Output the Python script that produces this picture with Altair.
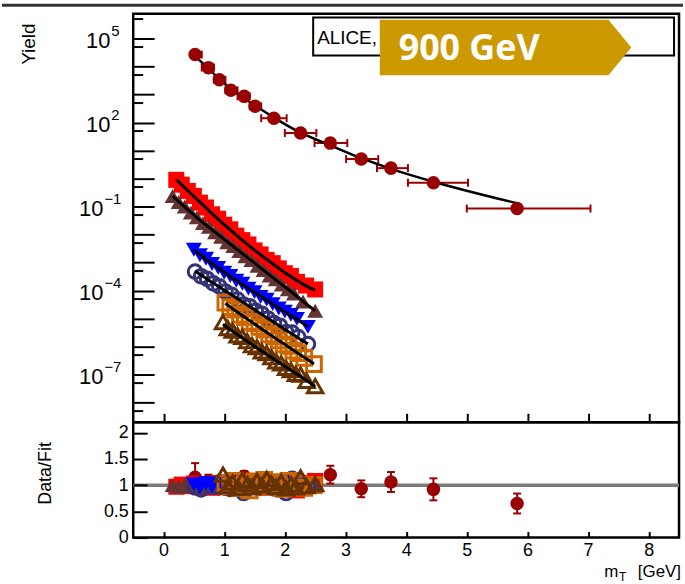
import altair as alt
import pandas as pd

FONT = "Liberation Sans"

# ---------------- axis ranges and ticks ----------------
X_DOMAIN = [-0.5, 8.5]
Y_DOMAIN = [2e-9, 7.8e5]
R_DOMAIN = [0.0, 2.2]
x_ticks = [0, 1, 2, 3, 4, 5, 6, 7, 8]
y_major = [1e-8, 1e-7, 1e-6, 1e-5, 1e-4, 1e-3, 1e-2, 1e-1, 1e0, 1e1, 1e2, 1e3, 1e4, 1e5]
y_minor = [5e-9, 5e-8, 5e-7, 5e-6, 5e-5, 5e-4, 5e-3, 5e-2, 5e-1, 5e0, 5e1, 5e2, 5e3, 5e4, 5e5]
y_label_pos = [1e5, 1e2]
y_label_pos_exp = ["5", "2"]
y_label_neg = [1e-1, 1e-4, 1e-7]
y_label_neg_exp = ["\u22121", "\u22124", "\u22127"]
r_ticks = [0, 0.5, 1, 1.5, 2]

# ---------------- data ----------------
# dark red filled circles (upper spectrum)
dr_x = [0.52, 0.74, 0.92, 1.11, 1.33, 1.51, 1.82, 2.26, 2.75, 3.26, 3.75, 4.45, 5.83]
dr_xlo = [0.45, 0.63, 0.83, 1.02, 1.22, 1.42, 1.61, 2.00, 2.49, 3.01, 3.52, 4.03, 5.00]
dr_xhi = [0.63, 0.83, 1.02, 1.22, 1.42, 1.61, 2.03, 2.52, 3.03, 3.54, 4.03, 5.02, 7.04]
dr_fit_log10 = [4.37, 3.93, 3.56, 3.20, 2.87, 2.61, 2.18, 1.64, 1.19, 0.73, 0.35, -0.11, -0.88]
dr_ratio = [1.15, 1.08, 0.93, 0.90, 1.17, 0.95, 0.95, 0.98, 1.20, 0.93, 1.06, 0.92, 0.65]
dr_ratio_err = [0.27, 0.12, 0.10, 0.10, 0.10, 0.10, 0.12, 0.14, 0.17, 0.16, 0.19, 0.21, 0.19]

red_x = [0.21, 0.30, 0.40, 0.50, 0.60, 0.70, 0.80, 0.90, 1.00, 1.10, 1.20, 1.30, 1.40, 1.50, 1.60, 1.70, 1.80, 1.90, 2.00, 2.10, 2.20, 2.35, 2.50]
red_fit_log10 = [-0.03, -0.22, -0.43, -0.63, -0.84, -1.04, -1.25, -1.45, -1.64, -1.83, -2.02, -2.20, -2.38, -2.55, -2.72, -2.88, -3.04, -3.20, -3.36, -3.50, -3.64, -3.83, -3.99]
red_ratio = [0.97, 1.01, 0.98, 1.03, 0.96, 1.02, 0.95, 1.04, 0.99, 1.05, 0.96, 1.01, 1.07, 0.97, 1.03, 0.95, 1.05, 0.99, 0.96, 1.06, 0.90, 1.03, 1.08]

brown_x = [0.15, 0.25, 0.35, 0.45, 0.55, 0.65, 0.75, 0.85, 0.95, 1.05, 1.15, 1.25, 1.35, 1.45, 1.55, 1.65, 1.75, 1.85, 1.95, 2.05, 2.15, 2.30, 2.50]
brown_fit_log10 = [-0.62, -0.82, -1.01, -1.20, -1.39, -1.57, -1.74, -1.91, -2.08, -2.25, -2.42, -2.59, -2.76, -2.93, -3.10, -3.27, -3.44, -3.61, -3.78, -3.94, -4.12, -4.38, -4.72]
brown_ratio = [1.00, 0.97, 1.03, 0.98, 1.02, 0.96, 1.04, 0.99, 1.01, 0.95, 1.03, 1.00, 0.97, 1.05, 0.98, 1.02, 0.96, 1.03, 1.00, 0.97, 1.04, 0.98, 1.01]

blue_x = [0.50, 0.60, 0.70, 0.80, 0.90, 1.00, 1.10, 1.20, 1.30, 1.40, 1.50, 1.60, 1.70, 1.80, 1.90, 2.00, 2.10, 2.20, 2.38]
blue_fit_log10 = [-2.55, -2.72, -2.88, -3.04, -3.19, -3.34, -3.49, -3.64, -3.78, -3.92, -4.06, -4.20, -4.34, -4.48, -4.62, -4.76, -4.90, -5.03, -5.28]
blue_ratio = [1.02, 0.96, 1.04, 0.98, 1.01, 0.95, 1.03, 0.99, 1.06, 0.97, 1.02, 0.94, 1.05, 1.00, 0.96, 1.03, 1.08, 1.05, 0.97]

navy_x = [0.52, 0.62, 0.72, 0.82, 0.92, 1.02, 1.12, 1.22, 1.32, 1.42, 1.52, 1.62, 1.72, 1.82, 1.92, 2.02, 2.12, 2.22, 2.38]
navy_fit_log10 = [-3.30, -3.45, -3.59, -3.73, -3.87, -4.01, -4.15, -4.29, -4.43, -4.57, -4.71, -4.85, -4.99, -5.13, -5.27, -5.41, -5.55, -5.69, -5.90]
navy_ratio = [0.96, 0.92, 1.02, 0.97, 1.05, 0.95, 1.01, 0.93, 0.85, 1.03, 0.97, 1.06, 0.99, 0.94, 1.04, 0.85, 1.12, 1.08, 0.98]

orange_x = [1.02, 1.10, 1.18, 1.26, 1.34, 1.42, 1.50, 1.58, 1.66, 1.74, 1.82, 1.90, 1.98, 2.06, 2.14, 2.22, 2.32, 2.48]
orange_fit_log10 = [-4.45, -4.58, -4.71, -4.83, -4.95, -5.07, -5.19, -5.31, -5.43, -5.55, -5.66, -5.78, -5.89, -6.01, -6.12, -6.24, -6.38, -6.62]
orange_ratio = [1.05, 0.98, 1.08, 0.95, 1.02, 0.90, 1.07, 1.04, 1.10, 0.97, 1.06, 1.02, 0.93, 1.08, 0.96, 1.03, 0.95, 1.00]

dbrown_x = [0.98, 1.06, 1.14, 1.22, 1.30, 1.38, 1.46, 1.54, 1.62, 1.70, 1.78, 1.86, 1.94, 2.02, 2.10, 2.18, 2.26, 2.36, 2.50]
dbrown_fit_log10 = [-5.20, -5.33, -5.45, -5.57, -5.69, -5.81, -5.93, -6.05, -6.16, -6.28, -6.39, -6.51, -6.62, -6.73, -6.84, -6.95, -7.06, -7.21, -7.42]
dbrown_ratio = [1.20, 0.98, 1.05, 0.95, 1.10, 1.02, 0.96, 1.08, 0.99, 1.12, 1.04, 0.97, 1.06, 0.94, 1.01, 0.96, 1.15, 0.98, 1.02]

# series: name, x, fit, ratio, colour, shape, filled, size
series = [
    ("red", red_x, red_fit_log10, red_ratio, "#FF0000", "square", True, 260),
    ("brown", brown_x, brown_fit_log10, brown_ratio, "#663333", "triangle-up", True, 260),
    ("navy", navy_x, navy_fit_log10, navy_ratio, "#333377", "circle", False, 190),
    ("blue", blue_x, blue_fit_log10, blue_ratio, "#0000FF", "triangle-down", True, 260),
    ("orange", orange_x, orange_fit_log10, orange_ratio, "#CC6600", "square", False, 220),
    ("dbrown", dbrown_x, dbrown_fit_log10, dbrown_ratio, "#663300", "triangle-up", False, 240),
]
DR = "#990000"

def make_df(name, xs, fitlog, ratio):
    fit = [10 ** v for v in fitlog]
    return pd.DataFrame({"series": name, "x": xs, "fit": fit,
                         "y": [f * r for f, r in zip(fit, ratio)], "ratio": ratio})

dr_df = make_df("dr", dr_x, dr_fit_log10, dr_ratio)
dr_df["xlo"] = dr_xlo
dr_df["xhi"] = dr_xhi
dr_df["rlo"] = [r - e for r, e in zip(dr_ratio, dr_ratio_err)]
dr_df["rhi"] = [r + e for r, e in zip(dr_ratio, dr_ratio_err)]
dr_xcaps = pd.concat([dr_df[["xlo", "y"]].rename(columns={"xlo": "xc"}),
                      dr_df[["xhi", "y"]].rename(columns={"xhi": "xc"})])
dr_rcaps = pd.concat([dr_df[["x", "rlo"]].rename(columns={"rlo": "rc"}),
                      dr_df[["x", "rhi"]].rename(columns={"rhi": "rc"})])

# ---------------- scales / axes ----------------
xscale = alt.Scale(domain=X_DOMAIN, nice=False, zero=False)
yscale = alt.Scale(type="log", domain=Y_DOMAIN, nice=False)
rscale = alt.Scale(domain=R_DOMAIN, nice=False, zero=False)

main_x_axis = alt.Axis(values=x_ticks, tickSize=9, offset=-9, labels=False, domain=False,
                       grid=False, title=None, tickColor="black", tickWidth=2, zindex=1)
main_y_axis = alt.Axis(values=y_major, tickSize=21, offset=-21, labels=False, domain=False,
                       grid=False, title=None, tickColor="black", tickWidth=2, zindex=1)
ratio_x_axis = alt.Axis(values=x_ticks, tickSize=6, offset=-6, labelPadding=4, domain=False,
                        grid=False, title=None, tickColor="black", tickWidth=2, zindex=1,
                        labelFont=FONT, labelFontSize=18, labelColor="black",
                        labelExpr="'' + datum.value")
ratio_y_axis = alt.Axis(values=r_ticks, tickSize=14, offset=-14, labelPadding=5, domain=False,
                        grid=False, title=None, tickColor="black", tickWidth=2, zindex=1,
                        labelFont=FONT, labelFontSize=18, labelColor="black",
                        labelExpr="'' + datum.value")

def MX(f):
    return alt.X(f + ":Q", scale=xscale, axis=main_x_axis)

def MY(f):
    return alt.Y(f + ":Q", scale=yscale, axis=main_y_axis)

def RX(f):
    return alt.X(f + ":Q", scale=xscale, axis=ratio_x_axis)

def RY(f):
    return alt.Y(f + ":Q", scale=rscale, axis=ratio_y_axis)

def marker(df, shp, filled, col, sz):
    if filled:
        return alt.Chart(df).mark_point(shape=shp, filled=True, color=col, size=sz, opacity=1)
    return alt.Chart(df).mark_point(shape=shp, filled=False, color=col, size=sz,
                                    strokeWidth=3, opacity=1)

one = pd.DataFrame({"t": ["x"]})

# ---------------- main panel ----------------
main_layers = []
main_layers.append(
    alt.Chart(one).mark_rect(color="#333333").encode(
        x=alt.value(-132), x2=alt.value(553), y=alt.value(-10), y2=alt.value(-7)))
main_layers.append(
    alt.Chart(pd.DataFrame({"v": y_minor})).mark_rule(color="black", strokeWidth=2).encode(
        y=MY("v"), x=alt.value(0), x2=alt.value(10)))

# y tick labels 10^n
lab_pos = pd.DataFrame({"v": y_label_pos, "e": y_label_pos_exp})
lab_neg = pd.DataFrame({"v": y_label_neg, "e": y_label_neg_exp})
main_layers.append(alt.Chart(lab_pos).mark_text(text="10", font=FONT, fontSize=22, align="right",
                                                baseline="middle", dy=2, color="black").encode(
    x=alt.value(-23), y=MY("v")))
main_layers.append(alt.Chart(lab_pos).mark_text(font=FONT, fontSize=15, align="left",
                                                baseline="middle", dy=-8, color="black").encode(
    x=alt.value(-22), y=MY("v"), text="e:N"))
main_layers.append(alt.Chart(lab_neg).mark_text(text="10", font=FONT, fontSize=22, align="right",
                                                baseline="middle", dy=2, color="black").encode(
    x=alt.value(-30), y=MY("v")))
main_layers.append(alt.Chart(lab_neg).mark_text(font=FONT, fontSize=15, align="left",
                                                baseline="middle", dy=-8, color="black").encode(
    x=alt.value(-29), y=MY("v"), text="e:N"))

for name, xs, fl, rt, col, shp, filled, sz in series:
    main_layers.append(marker(make_df(name, xs, fl, rt), shp, filled, col, sz).encode(
        x=MX("x"), y=MY("y")))

for name, xs, fl, rt, col, shp, filled, sz in series:
    df = make_df(name, xs, fl, rt)
    main_layers.append(alt.Chart(df).mark_line(color="black", strokeWidth=3,
                                               interpolate="monotone").encode(
        x=MX("x"), y=MY("fit"), order="x:Q"))

main_layers.append(alt.Chart(dr_df).mark_rule(color=DR, strokeWidth=2).encode(
    x=MX("xlo"), x2="xhi:Q", y=MY("y")))
main_layers.append(alt.Chart(dr_xcaps).mark_tick(orient="vertical", size=8, thickness=2,
                                                 color=DR, opacity=1).encode(
    x=MX("xc"), y=MY("y")))
main_layers.append(alt.Chart(dr_df).mark_line(color="black", strokeWidth=2.5,
                                              interpolate="monotone").encode(
    x=MX("x"), y=MY("fit"), order="x:Q"))
main_layers.append(alt.Chart(dr_df).mark_point(shape="circle", filled=True, color=DR,
                                               size=185, opacity=1).encode(
    x=MX("x"), y=MY("y")))

# legend box and banner
main_layers.append(alt.Chart(one).mark_rect(fill="white", stroke="black", strokeWidth=2).encode(
    x=alt.value(181), x2=alt.value(544), y=alt.value(4), y2=alt.value(42)))
main_layers.append(alt.Chart(one).mark_text(text="ALICE,", font=FONT, fontSize=19,
                                            align="left", baseline="alphabetic",
                                            color="black").encode(
    x=alt.value(185), y=alt.value(31)))
BANNER = "M -1 -0.221 L 0.818 -0.221 L 1 0 L 0.818 0.221 L -1 0.221 Z"
main_layers.append(alt.Chart(one).mark_point(shape=BANNER, filled=True, color="#CC9A00",
                                             size=253 * 253, opacity=1, strokeWidth=0).encode(
    x=alt.value(374.5), y=alt.value(34)))
main_layers.append(alt.Chart(one).mark_text(text="900 GeV", font="Open Sans", fontSize=36,
                                            fontWeight="bold", align="left",
                                            baseline="alphabetic", color="white").encode(
    x=alt.value(267), y=alt.value(47)))
main_layers.append(alt.Chart(one).mark_text(text="Yield", font=FONT, fontSize=19, angle=270,
                                            align="right", baseline="middle",
                                            color="black").encode(
    x=alt.value(-105), y=alt.value(10)))

main = alt.layer(*main_layers).properties(width=549, height=411)

# ---------------- ratio panel ----------------
ratio_layers = []
ratio_layers.append(alt.Chart(pd.DataFrame({"r": [1.0]})).mark_rule(
    color="#7A7A7A", strokeWidth=3.5).encode(y=RY("r")))
ratio_layers.append(alt.Chart(dr_df).mark_rule(color=DR, strokeWidth=2).encode(
    x=RX("x"), y=RY("rlo"), y2="rhi:Q"))
ratio_layers.append(alt.Chart(dr_rcaps).mark_tick(orient="horizontal", size=8, thickness=2,
                                                  color=DR, opacity=1).encode(
    x=RX("x"), y=RY("rc")))
ratio_layers.append(alt.Chart(dr_df).mark_point(shape="circle", filled=True, color=DR,
                                                size=185, opacity=1).encode(
    x=RX("x"), y=RY("ratio")))
for name, xs, fl, rt, col, shp, filled, sz in series:
    ratio_layers.append(marker(make_df(name, xs, fl, rt), shp, filled, col, sz).encode(
        x=RX("x"), y=RY("ratio")))
ratio_layers.append(alt.Chart(one).mark_text(text="Data/Fit", font=FONT, fontSize=18, angle=270,
                                             align="right", baseline="middle",
                                             color="black").encode(
    x=alt.value(-88), y=alt.value(20)))
ratio_layers.append(alt.Chart(one).mark_text(text="[GeV]", font=FONT, fontSize=17,
                                             align="right", baseline="alphabetic",
                                             color="black").encode(
    x=alt.value(551), y=alt.value(156)))
ratio_layers.append(alt.Chart(one).mark_text(text="T", font=FONT, fontSize=12,
                                             align="right", baseline="alphabetic",
                                             color="black").encode(
    x=alt.value(496), y=alt.value(160)))
ratio_layers.append(alt.Chart(one).mark_text(text="m", font=FONT, fontSize=17,
                                             align="right", baseline="alphabetic",
                                             color="black").encode(
    x=alt.value(488), y=alt.value(156)))

ratio = alt.layer(*ratio_layers).properties(width=549, height=116)

chart = (alt.vconcat(main, ratio, spacing=0, bounds="flush")
         .properties(padding=0, background="white")
         .configure_view(stroke="black", strokeWidth=2.5))

chart.save("out.html", embed_options={"renderer": "svg", "actions": False})
